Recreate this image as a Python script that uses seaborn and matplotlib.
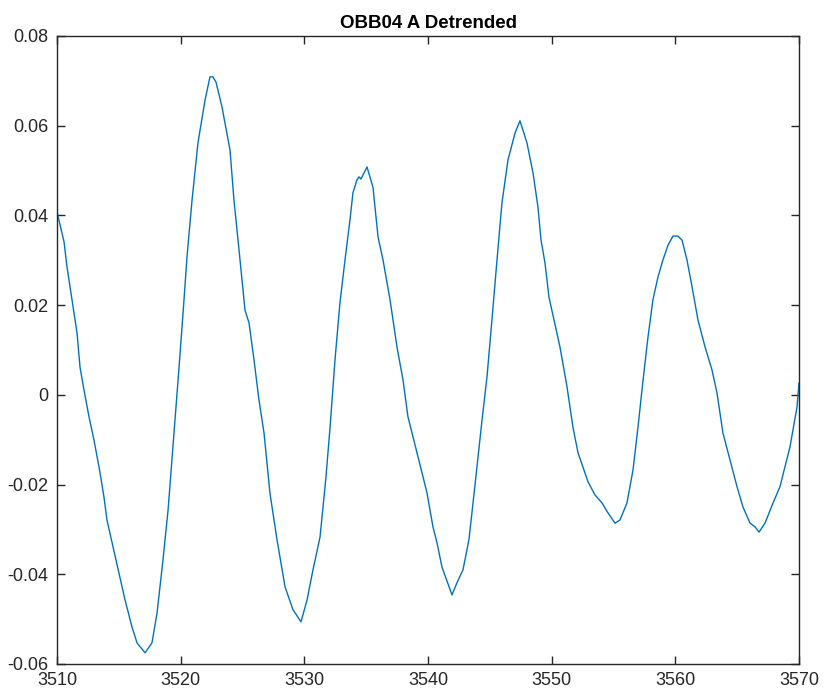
import numpy as np
import pandas as pd
import matplotlib
matplotlib.use("Agg")
import matplotlib.pyplot as plt
import seaborn as sns

title = "OBB04 A Detrended"

x_vals = [
    3510.00, 3510.40, 3510.57, 3510.81, 3511.21, 3511.62, 3511.86, 3512.18, 3512.59, 3512.99,
    3513.40, 3513.80, 3514.04, 3514.53, 3515.50, 3516.06, 3516.47, 3517.12, 3517.68, 3518.09,
    3518.57, 3518.98, 3519.46, 3519.87, 3520.27, 3520.51, 3520.92, 3521.40, 3521.97, 3522.37,
    3522.61, 3522.86, 3523.34, 3523.99, 3524.31, 3524.72, 3525.20, 3525.53, 3525.93, 3526.33,
    3526.74, 3527.22, 3527.79, 3528.44, 3529.08, 3529.73, 3530.22, 3530.70, 3531.27, 3531.75,
    3532.08, 3532.48, 3532.88, 3533.29, 3533.69, 3533.93, 3534.25, 3534.42, 3534.58, 3535.07,
    3535.55, 3535.96, 3536.36, 3536.93, 3537.49, 3537.98, 3538.38, 3539.11, 3539.60, 3539.92,
    3540.40, 3540.73, 3541.13, 3541.94, 3542.34, 3542.83, 3543.31, 3543.80, 3544.37, 3544.77,
    3545.17, 3545.58, 3545.98, 3546.47, 3547.04, 3547.44, 3548.00, 3548.49, 3548.89, 3549.14,
    3549.46, 3549.78, 3550.19, 3550.67, 3551.24, 3551.72, 3552.13, 3552.53, 3552.94, 3553.50,
    3554.07, 3554.55, 3555.12, 3555.52, 3556.09, 3556.58, 3556.98, 3557.39, 3557.79, 3558.19,
    3558.60, 3559.00, 3559.41, 3559.81, 3560.21, 3560.54, 3560.94, 3561.35, 3561.83, 3562.40,
    3562.96, 3563.37, 3563.85, 3564.42, 3564.99, 3565.47, 3566.04, 3566.44, 3566.77, 3567.25,
    3567.90, 3568.46, 3569.27, 3569.84, 3570.00,
]

y_vals = [
    0.0408, 0.0361, 0.0341, 0.0285, 0.0212, 0.0138, 0.0062, 0.0011, -0.0049, -0.0101,
    -0.0161, -0.0228, -0.0279, -0.0339, -0.0457, -0.0517, -0.0553, -0.0575, -0.0553, -0.0486,
    -0.0368, -0.0257, -0.0085, 0.0062, 0.0212, 0.0307, 0.0434, 0.0562, 0.0657, 0.0709,
    0.0709, 0.0697, 0.0642, 0.0546, 0.0434, 0.0323, 0.0189, 0.0160, 0.0078, -0.0011,
    -0.0085, -0.0219, -0.0323, -0.0428, -0.0479, -0.0506, -0.0457, -0.0390, -0.0317, -0.0183,
    -0.0072, 0.0078, 0.0205, 0.0301, 0.0390, 0.0450, 0.0479, 0.0486, 0.0481, 0.0508,
    0.0463, 0.0352, 0.0301, 0.0212, 0.0107, 0.0033, -0.0049, -0.0129, -0.0183, -0.0219,
    -0.0294, -0.0330, -0.0384, -0.0446, -0.0419, -0.0390, -0.0323, -0.0201, -0.0056, 0.0040,
    0.0167, 0.0301, 0.0428, 0.0524, 0.0584, 0.0611, 0.0562, 0.0495, 0.0419, 0.0345,
    0.0294, 0.0218, 0.0167, 0.0107, 0.0018, -0.0072, -0.0129, -0.0161, -0.0194, -0.0223,
    -0.0241, -0.0263, -0.0286, -0.0279, -0.0241, -0.0167, -0.0072, 0.0033, 0.0129, 0.0212,
    0.0263, 0.0301, 0.0334, 0.0354, 0.0354, 0.0345, 0.0301, 0.0241, 0.0167, 0.0107,
    0.0056, 0.0004, -0.0085, -0.0145, -0.0205, -0.0250, -0.0286, -0.0294, -0.0306, -0.0286,
    -0.0241, -0.0205, -0.0116, -0.0027, 0.0027,
]

x_ticks = [3510, 3520, 3530, 3540, 3550, 3560, 3570]
x_tick_labels = ["3510", "3520", "3530", "3540", "3550", "3560", "3570"]
y_ticks = [-0.06, -0.04, -0.02, 0, 0.02, 0.04, 0.06, 0.08]
y_tick_labels = ["-0.06", "-0.04", "-0.02", "0", "0.02", "0.04", "0.06", "0.08"]

df = pd.DataFrame({"t": x_vals, "v": y_vals})

sns.set_theme(style="ticks")
plt.rcParams["font.family"] = ["Liberation Sans", "DejaVu Sans"]

fig = plt.figure(figsize=(8.25, 6.98), dpi=100)
ax = fig.add_axes([57 / 825, 1 - 664 / 698, (799 - 57) / 825, (664 - 36) / 698])

sns.lineplot(data=df, x="t", y="v", ax=ax, color="#0072BD", linewidth=1.0,
             estimator=None, sort=False)

ax.set_xlim(3510, 3570)
ax.set_ylim(-0.06, 0.08)
ax.set_xticks(x_ticks)
ax.set_xticklabels(x_tick_labels)
ax.set_yticks(y_ticks)
ax.set_yticklabels(y_tick_labels)
ax.set_xlabel("")
ax.set_ylabel("")

edge = "#262626"
for s in ax.spines.values():
    s.set_visible(True)
    s.set_color(edge)
    s.set_linewidth(1.0)
ax.tick_params(axis="both", which="both", direction="in", length=6, width=1.0,
               color=edge, labelcolor=edge, labelsize=13,
               top=True, right=True, labeltop=False, labelright=False, pad=6)

ax.set_title(title, fontsize=13.5, fontweight="bold", color="black", pad=6)

fig.savefig("out.png", dpi=100)
